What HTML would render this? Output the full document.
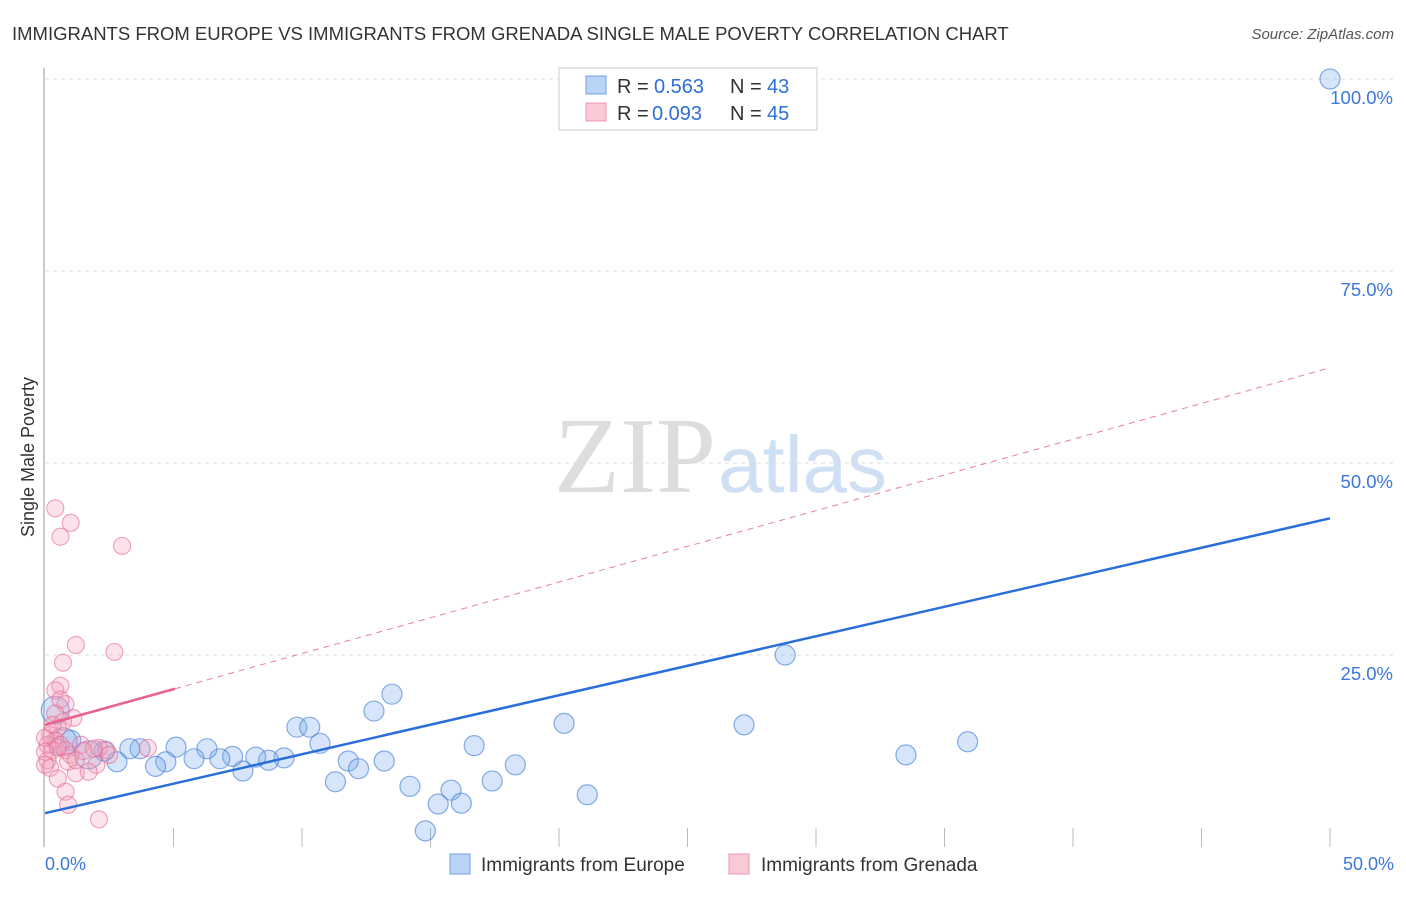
<!DOCTYPE html>
<html><head><meta charset="utf-8"><style>
body{margin:0;background:#fff;font-family:"Liberation Sans",sans-serif;}
</style></head><body>
<svg width="1406" height="892" xmlns="http://www.w3.org/2000/svg" font-family="Liberation Sans, sans-serif">
<text x="12" y="40" font-size="18.5" fill="#333">IMMIGRANTS FROM EUROPE VS IMMIGRANTS FROM GRENADA SINGLE MALE POVERTY CORRELATION CHART</text>
<text x="1394" y="39" font-size="15" fill="#555" font-style="italic" text-anchor="end">Source: ZipAtlas.com</text>
<text x="716" y="492" font-size="108" fill="#ddd" text-anchor="end" font-family="Liberation Serif, serif">ZIP</text>
<text x="718" y="492" font-size="80" fill="#cfe0f5">atlas</text>
<g id="grid"></g>
<line x1="44" y1="68" x2="44" y2="847" stroke="#bbb" stroke-width="1.5"/>
<text transform="translate(34,457) rotate(-90)" font-size="18" fill="#333" text-anchor="middle">Single Male Poverty</text>
<g id="marks"></g>
<g>
<rect x="559" y="68" width="258" height="62" fill="#fff" stroke="#ccc"/>
<rect x="586" y="76" width="20" height="18" fill="#b8d4f6" stroke="#6fa0e0"/>
<rect x="586" y="103" width="20" height="18" fill="#fbc8d6" stroke="#ee96ae"/>
<text x="617" y="93" font-size="20" fill="#333">R = </text>
<text x="654" y="93" font-size="20" fill="#2c6fd6">0.563</text>
<text x="730" y="93" font-size="20" fill="#333">N = </text>
<text x="767" y="93" font-size="20" fill="#2c6fd6">43</text>
<text x="617" y="120" font-size="20" fill="#333">R = </text>
<text x="652" y="120" font-size="20" fill="#2c6fd6">0.093</text>
<text x="730" y="120" font-size="20" fill="#333">N = </text>
<text x="767" y="120" font-size="20" fill="#2c6fd6">45</text>
</g>
<text x="45" y="870" font-size="18" fill="#3b78d8">0.0%</text>
<text x="1394" y="870" font-size="18" fill="#3b78d8" text-anchor="end">50.0%</text>
<g>
<rect x="450" y="854" width="20" height="20" fill="#b8d4f6" stroke="#6fa0e0"/>
<text x="481" y="871" font-size="19" fill="#333">Immigrants from Europe</text>
<rect x="729" y="854" width="20" height="20" fill="#fbc8d6" stroke="#ee96ae"/>
<text x="761" y="871" font-size="19" fill="#333">Immigrants from Grenada</text>
</g>
</svg>
<script>
const yTicks=[25,50,75,100];
const yTickLabels=["25.0%","50.0%","75.0%","100.0%"];
const xTicks=[5,10,15,20,25,30,35,40,45,50];
const europeX=[50,28.8,20.2,27.2,33.5,35.9,13.5,12.8,9.8,10.3,10.7,16.7,18.3,13.2,11.8,12.2,11.3,14.2,17.4,15.8,15.3,16.2,21.1,14.8,9.3,8.7,8.2,7.7,7.3,6.8,6.3,5.8,5.1,4.7,4.3,3.7,3.3,2.8,2.3,1.7,1.0,0.7,0.4];
const europeY=[100,25,16.1,15.9,12,13.7,19.9,17.7,15.6,15.6,13.5,13.2,10.7,11.2,11.2,10.2,8.5,7.9,8.6,7.4,5.6,5.7,6.8,2.1,11.6,11.3,11.7,9.9,11.8,11.5,12.8,11.5,13,11.1,10.5,12.8,12.8,11.1,12.5,12,13.9,13.7,17.8];
const grenadaX=[0.4,1,0.6,3,1.2,2.7,0.7,0.6,0.4,0.8,0.4,1.1,0.7,0.5,0.2,0.4,0.6,0.1,0.3,0.8,1,0.1,0.9,2.1,2.4,4,2,0.2,1.2,0.5,0.8,0.9,2.1,0,0,1.4,0.3,1.2,2.5,1.7,0,0.6,1.5,0.5,1.9];
const grenadaY=[44.1,42.2,40.4,39.2,26.3,25.4,24,21,20.4,18.6,17.4,16.8,16.3,15.5,14.6,13.9,13.3,13.3,12.6,12.6,12,11.3,11.1,12.9,12.6,12.9,10.7,10.3,9.6,8.9,7.2,5.5,3.6,14.2,12.4,13.3,15.9,11.3,12,9.8,10.7,19.2,12.5,13,12.8];
const europeTrend=[4.4,42.8];
const grenadaTrend=[15.9,62.4];
const X0=45,X1=1330,Y0=847,Y1=79;
const sx=v=>X0+(v/50)*(X1-X0);
const sy=v=>Y0-(v/100)*(Y0-Y1);
const NS="http://www.w3.org/2000/svg";
const grid=document.getElementById('grid'),marks=document.getElementById('marks');
function mk(tag,attrs,parent){const e=document.createElementNS(NS,tag);for(const k in attrs)e.setAttribute(k,attrs[k]);parent.appendChild(e);return e;}
yTicks.forEach((t,i)=>{
 const l=mk('line',{x1:45,x2:1394,y1:sy(t),y2:sy(t),stroke:'#ddd','stroke-dasharray':'4,4'},grid);
 
 
 const tx=mk('text',{x:1393,y:sy(t)+25,'font-size':18.5,fill:'#3b78d8','text-anchor':'end'},grid);
 tx.textContent=yTickLabels[i];
 
 
});
xTicks.forEach(t=>{
 const l=mk('line',{x1:sx(t),x2:sx(t),y1:828,y2:847,stroke:'#bbb'},grid);
 
 
});
europeX.forEach((x,i)=>{
 const big=(i===42||i===41||i===39);
 const c=mk('circle',{cx:sx(x),cy:sy(europeY[i]),r:big?14:10,fill:'rgba(120,170,235,0.3)',stroke:'rgba(60,120,215,0.6)','stroke-width':1.2},marks);
 
 
});
grenadaX.forEach((x,i)=>{
 const c=mk('circle',{cx:sx(x),cy:sy(grenadaY[i]),r:8.5,fill:'rgba(245,160,185,0.3)',stroke:'rgba(230,110,150,0.6)','stroke-width':1.2},marks);
 
 
});
const gAt=x=>grenadaTrend[0]+(grenadaTrend[1]-grenadaTrend[0])*x/50;
const gd=mk('line',{x1:sx(5.06),y1:sy(gAt(5.06)),x2:sx(50),y2:sy(gAt(50)),stroke:'#e87fa0','stroke-width':1,'stroke-dasharray':'6,5'},marks);


const gs=mk('line',{x1:sx(0),y1:sy(gAt(0)),x2:sx(5.06),y2:sy(gAt(5.06)),stroke:'#e8628c','stroke-width':2.5},marks);


const eb=mk('line',{x1:sx(0),y1:sy(europeTrend[0]),x2:sx(50),y2:sy(europeTrend[1]),stroke:'#2a6fd8','stroke-width':2.5},marks);


</script>
</body></html>
